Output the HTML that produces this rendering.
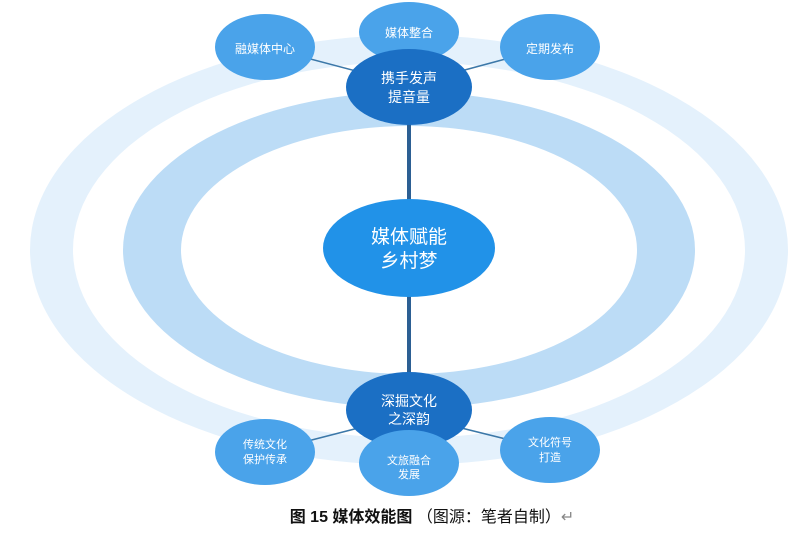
<!DOCTYPE html>
<html><head><meta charset="utf-8"><style>
body{margin:0;background:#fff;width:807px;height:537px;overflow:hidden}
svg{display:block}
text{font-family:"Liberation Sans","Noto Sans CJK SC",sans-serif;fill:#fff;text-anchor:middle}
</style></head><body>
<svg width="807" height="537" viewBox="0 0 807 537">
<ellipse cx="409" cy="250" rx="379" ry="215" fill="#e4f1fc"/>
<ellipse cx="409" cy="250" rx="336" ry="188" fill="#fff"/>
<ellipse cx="409" cy="250" rx="286" ry="158" fill="#bcdcf6"/>
<ellipse cx="409" cy="250" rx="228" ry="124" fill="#fff"/>
<line x1="409" y1="100" x2="409" y2="400" stroke="#2c5f93" stroke-width="4"/>
<line x1="265" y1="47" x2="409" y2="85" stroke="#3c78a8" stroke-width="1.5"/>
<line x1="550" y1="47" x2="409" y2="85" stroke="#3c78a8" stroke-width="1.5"/>
<line x1="265" y1="452" x2="409" y2="415" stroke="#3c78a8" stroke-width="1.5"/>
<line x1="550" y1="450" x2="409" y2="415" stroke="#3c78a8" stroke-width="1.5"/>
<ellipse cx="409" cy="248" rx="86" ry="49" fill="#2192e8"/>
<text x="409" y="243" font-size="19">媒体赋能</text>
<text x="409" y="267" font-size="19">乡村梦</text>
<ellipse cx="265" cy="47" rx="50" ry="33" fill="#4aa3ea"/>
<text x="265" y="53" font-size="12">融媒体中心</text>
<ellipse cx="550" cy="47" rx="50" ry="33" fill="#4aa3ea"/>
<text x="550" y="53" font-size="12">定期发布</text>
<ellipse cx="409" cy="32" rx="50" ry="30" fill="#4aa3ea"/>
<text x="409" y="37" font-size="12">媒体整合</text>
<ellipse cx="409" cy="87" rx="63" ry="38" fill="#1b6fc4"/>
<text x="409" y="83" font-size="14">携手发声</text>
<text x="409" y="102" font-size="14">提音量</text>
<ellipse cx="265" cy="452" rx="50" ry="33" fill="#4aa3ea"/>
<text x="265" y="448" font-size="11">传统文化</text>
<text x="265" y="463" font-size="11">保护传承</text>
<ellipse cx="550" cy="450" rx="50" ry="33" fill="#4aa3ea"/>
<text x="550" y="446" font-size="11">文化符号</text>
<text x="550" y="461" font-size="11">打造</text>
<ellipse cx="409" cy="410" rx="63" ry="38" fill="#1b6fc4"/>
<text x="409" y="406" font-size="14">深掘文化</text>
<text x="409" y="424" font-size="14">之深韵</text>
<ellipse cx="409" cy="463" rx="50" ry="33" fill="#4aa3ea"/>
<text x="409" y="464" font-size="11">文旅融合</text>
<text x="409" y="478" font-size="11">发展</text>
<text x="432" y="522" font-size="16" style="fill:#111;font-weight:bold">图 15  媒体效能图  <tspan font-weight="normal">（图源：笔者自制）</tspan><tspan font-weight="normal" fill="#888">↵</tspan></text>
</svg>
</body></html>
